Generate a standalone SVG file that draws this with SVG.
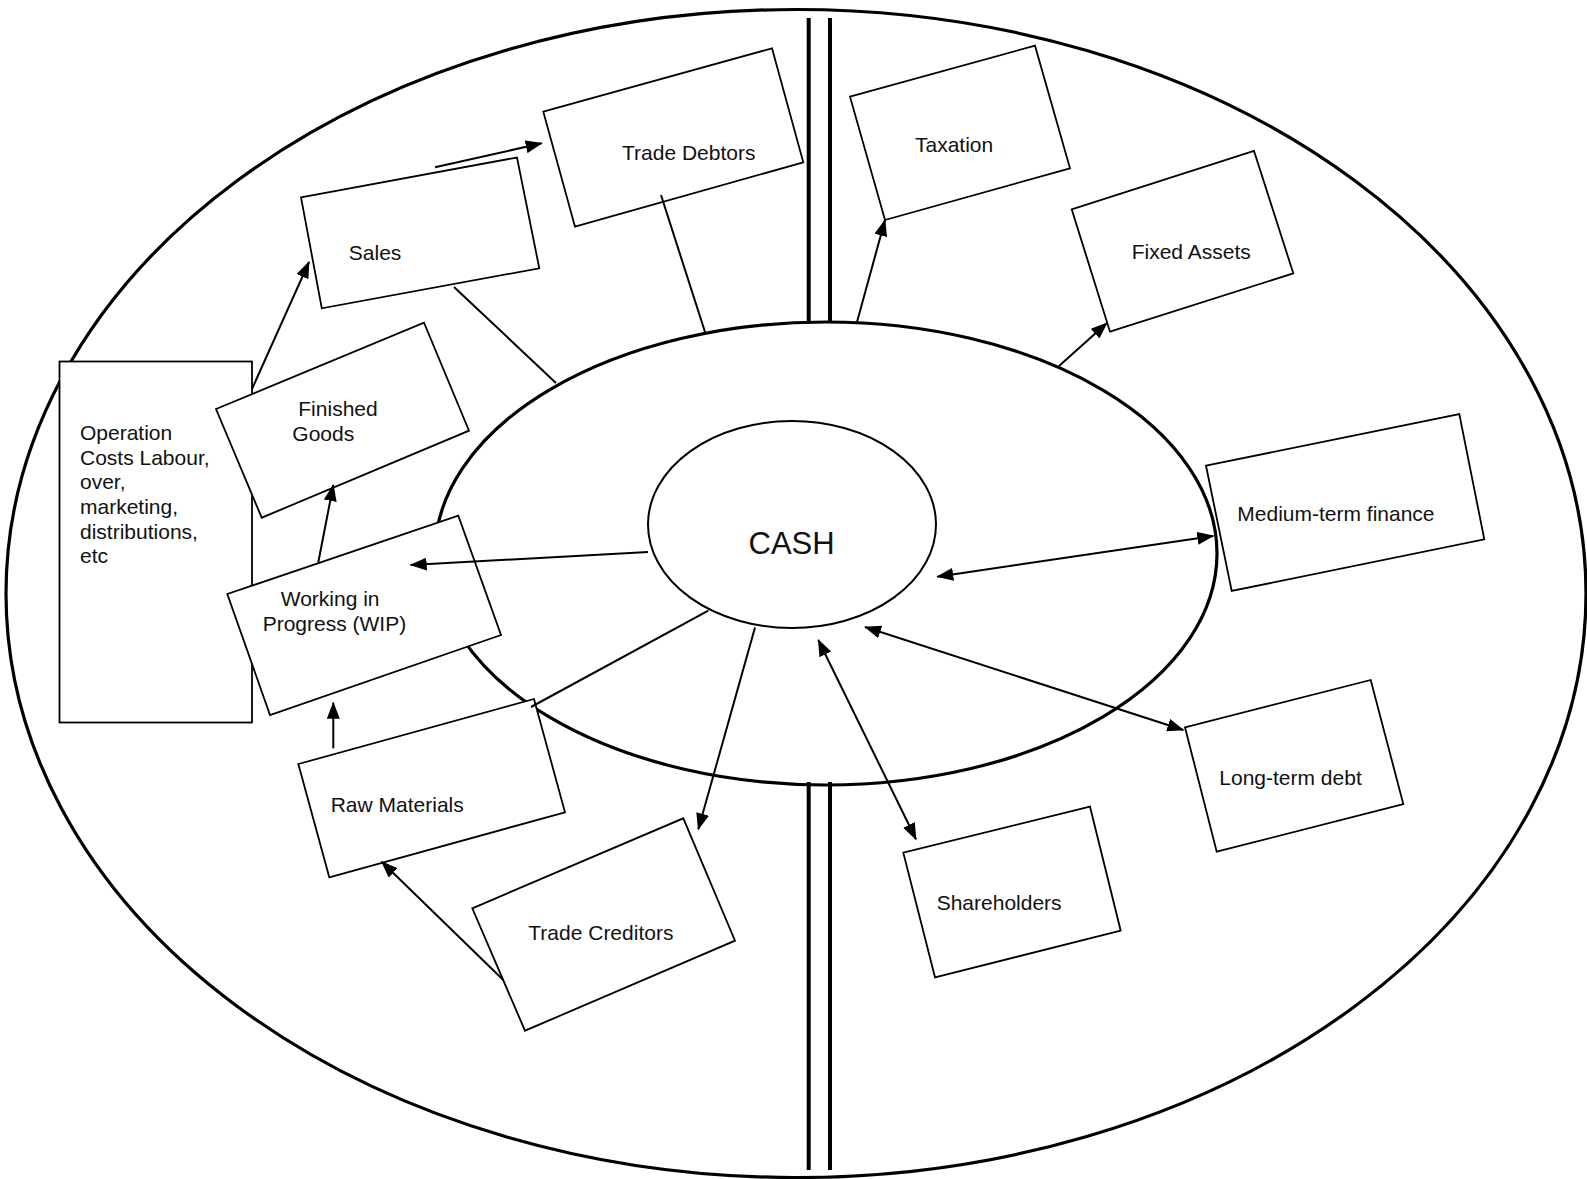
<svg xmlns="http://www.w3.org/2000/svg" width="1587" height="1179" viewBox="0 0 1587 1179">
<style>
.ring{fill:none;stroke:#000;stroke-width:3.2}
.bar{stroke:#000;stroke-width:4}
.box{fill:#fff;stroke:#000;stroke-width:1.8}
.lbl{font-family:"Liberation Sans",Arial,sans-serif;font-size:21px;fill:#111}
.cash{font-family:"Liberation Sans",Arial,sans-serif;font-size:31px;fill:#111}
.con{fill:none;stroke:#000;stroke-width:2}
.arr{marker-end:url(#ah)}
.bi{marker-start:url(#ah);marker-end:url(#ah)}
</style>
<defs>
<marker id="ah" markerUnits="userSpaceOnUse" markerWidth="17" markerHeight="13" refX="16" refY="6.5" orient="auto-start-reverse">
<path d="M0,0 L17,6.5 L0,13 z" fill="#000"/>
</marker>
</defs>
<rect width="1587" height="1179" fill="#fff"/>
<g id="background">
<ellipse class="ring" cx="796" cy="593.5" rx="790" ry="584"/>
<line class="bar" x1="808.7" y1="18" x2="808.7" y2="322"/>
<line class="bar" x1="830" y1="18" x2="830" y2="322"/>
<line class="bar" x1="808.7" y1="782" x2="808.7" y2="1170"/>
<line class="bar" x1="830" y1="782" x2="830" y2="1170"/>
<ellipse class="ring" cx="826" cy="553.5" rx="391" ry="231.5"/>
</g>
<g id="cash">
<ellipse cx="792" cy="524.5" rx="144" ry="103.5" fill="#fff" stroke="#000" stroke-width="2"/>
<text class="cash" x="748.5" y="554">CASH</text>
</g>
<g id="operation-costs">
<rect class="box" x="59.5" y="361.5" width="192.5" height="361"/>
<text class="lbl" x="80" y="440">Operation</text>
<text class="lbl" x="80" y="464.5">Costs Labour,</text>
<text class="lbl" x="80" y="489">over,</text>
<text class="lbl" x="80" y="513.5">marketing,</text>
<text class="lbl" x="80" y="538.5">distributions,</text>
<text class="lbl" x="80" y="563">etc</text>
</g>
<g id="sales">
<polygon class="box" points="301,197.3 517,157.5 539.3,268.3 321.8,308.3"/>
<text class="lbl" x="348.8" y="259.5">Sales</text>
</g>
<g id="trade-debtors">
<polygon class="box" points="543.3,111.7 772,48.3 803.3,162.3 575,226.7"/>
<text class="lbl" x="622" y="160">Trade Debtors</text>
</g>
<g id="taxation">
<polygon class="box" points="850,96.7 1035,45.7 1070,168.3 885,220"/>
<text class="lbl" x="915" y="151.7">Taxation</text>
</g>
<g id="fixed-assets">
<polygon class="box" points="1071.7,209.3 1254,151 1293.3,273.3 1110,331.7"/>
<text class="lbl" x="1131.7" y="259.3">Fixed Assets</text>
</g>
<g id="finished-goods">
<polygon class="box" points="216,409 424,322.7 469,430.7 261.7,517.7"/>
<text class="lbl" x="298.3" y="416">Finished</text>
<text class="lbl" x="292.3" y="440.7">Goods</text>
</g>
<g id="wip">
<polygon class="box" points="227.3,594 458.3,515.7 501,635 270,715"/>
<text class="lbl" x="280.7" y="606">Working in</text>
<text class="lbl" x="262.7" y="630.7">Progress (WIP)</text>
</g>
<g id="raw-materials">
<polygon class="box" points="298.3,764 534,699 565,812.3 329.3,877.3"/>
<text class="lbl" x="330.7" y="811.7">Raw Materials</text>
</g>
<g id="trade-creditors">
<polygon class="box" points="472.3,908.3 683.3,818.3 735,940.7 525,1030.7"/>
<text class="lbl" x="528.3" y="940">Trade Creditors</text>
</g>
<g id="medium-term-finance">
<polygon class="box" points="1206,465.7 1459.3,414 1484.3,539.3 1231.7,591"/>
<text class="lbl" x="1237.3" y="520.7">Medium-term finance</text>
</g>
<g id="long-term-debt">
<polygon class="box" points="1185,727.3 1370.7,680 1403.3,804 1216.7,851.7"/>
<text class="lbl" x="1219.3" y="785">Long-term debt</text>
</g>
<g id="shareholders">
<polygon class="box" points="903.3,852.7 1090,806.7 1120.7,930.7 935,977.3"/>
<text class="lbl" x="936.7" y="910">Shareholders</text>
</g>
<g id="connectors">
<line class="con arr" x1="252" y1="389" x2="309" y2="262"/>
<line class="con arr" x1="435" y1="167.3" x2="541.7" y2="143.3"/>
<line class="con" x1="454" y1="287" x2="556" y2="383"/>
<line class="con" x1="661" y1="195" x2="705" y2="332"/>
<line class="con arr" x1="857" y1="322" x2="885" y2="220"/>
<line class="con arr" x1="1059" y1="366" x2="1107" y2="323"/>
<line class="con arr" x1="318.3" y1="562.3" x2="333.3" y2="485"/>
<line class="con arr" x1="648" y1="552" x2="410.7" y2="565"/>
<line class="con arr" x1="333.3" y1="748.3" x2="333.3" y2="702.7"/>
<line class="con" x1="531" y1="707" x2="708.3" y2="610.7"/>
<line class="con arr" x1="755" y1="627.5" x2="698.3" y2="829.3"/>
<line class="con arr" x1="503.3" y1="980" x2="381.7" y2="861.7"/>
<line class="con bi" x1="937.3" y1="576.7" x2="1213.3" y2="536"/>
<line class="con bi" x1="865" y1="627" x2="1183.3" y2="730"/>
<line class="con bi" x1="818.3" y1="640" x2="916" y2="839.3"/>
</g>
</svg>
